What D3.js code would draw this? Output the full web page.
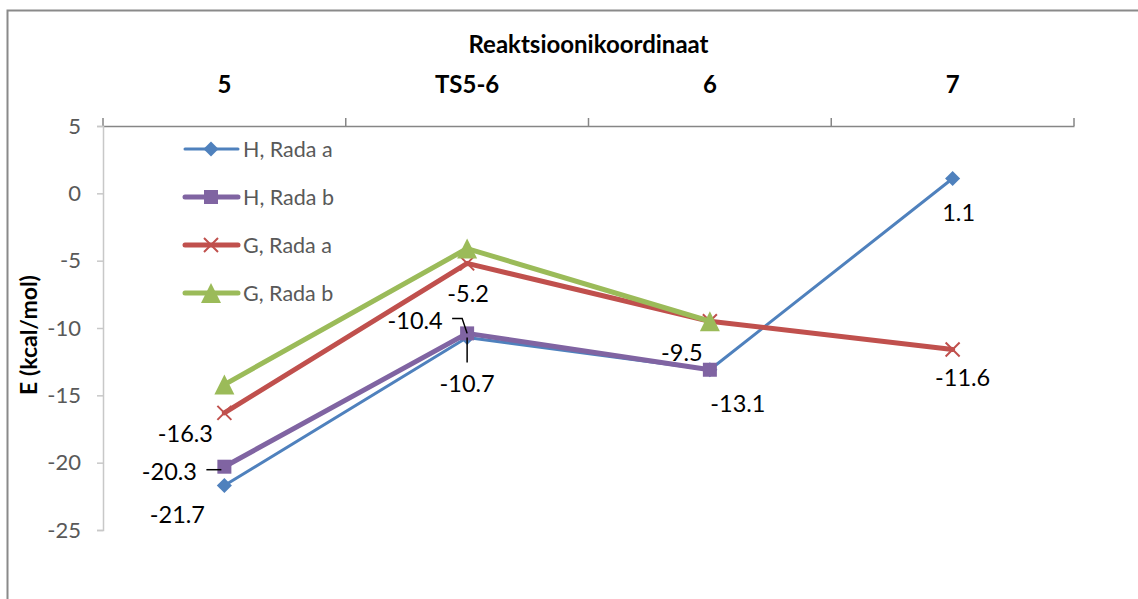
<!DOCTYPE html>
<html>
<head>
<meta charset="utf-8">
<script src="https://cdn.jsdelivr.net/npm/d3@7/dist/d3.min.js"></script>
<style>
  html, body { margin: 0; padding: 0; background: #fff; }
  svg { display: block; font-family: Lato, "Open Sans", sans-serif; }
</style>
</head>
<body>
<svg id="chart" width="1138" height="599"></svg>
<script>
// Reaction coordinate categories
const categories = ["5", "TS5-6", "6", "7"];
const yTicks = [5, 0, -5, -10, -15, -20, -25];

// Energies (kcal/mol) per series; null = no point
const hRadaA = [-21.7, -10.7, -13.1, 1.1];
const hRadaB = [-20.3, -10.4, -13.1, null];
const gRadaA = [-16.3, -5.2, -9.5, -11.6];
const gRadaB = [-14.2, -4.1, -9.5, null];

const seriesNames = ["H, Rada a", "H, Rada b", "G, Rada a", "G, Rada b"];
const seriesValues = [hRadaA, hRadaB, gRadaA, gRadaB];
const seriesColors = ["#4F81BD", "#8064A2", "#C0504D", "#9BBB59"];
const seriesWidths = [3, 5, 5, 5];
const seriesMarkers = ["diamond", "square", "cross", "triangle"];

// Value labels: series index, category index, offset of label centre, optional leader line
const labels = [
  { s: 0, c: 0, dx: -47, dy: 28 },
  { s: 1, c: 0, dx: -55, dy: 4, leader: [[-18, 3], [-3, 3]] },
  { s: 2, c: 0, dx: -39, dy: 20 },
  { s: 1, c: 1, dx: -52, dy: -13, leader: [[-15, -15], [-5, -15], [0, 0]] },
  { s: 0, c: 1, dx: 0, dy: 46, leader: [[0, 25], [0, 0]] },
  { s: 2, c: 1, dx: 1, dy: 30 },
  { s: 2, c: 2, dx: -28, dy: 31 },
  { s: 1, c: 2, dx: 28, dy: 33 },
  { s: 0, c: 3, dx: 6, dy: 33 },
  { s: 2, c: 3, dx: 10, dy: 27 }
];

const svg = d3.select("#chart");
const plot = { left: 103, right: 1074, top: 126, bottom: 530 };

const x = d3.scaleBand().domain(categories).range([plot.left, plot.right]).paddingInner(0).paddingOuter(0);
const xc = c => x(c) + x.bandwidth() / 2;
const y = d3.scaleLinear().domain([-25, 5]).range([plot.bottom, plot.top]);

// Chart area frame
svg.append("path")
  .attr("d", "M7.5,600 L7.5,10.5 L1140,10.5")
  .attr("fill", "none").attr("stroke", "#8a8a8a").attr("stroke-width", 2);

// Category axis along the top
const xAxis = d3.axisTop(x).tickSize(0).tickFormat("");
svg.append("g").attr("transform", `translate(0,${y(5)})`).call(xAxis)
  .call(g => g.select(".domain").attr("stroke", "#868686").attr("stroke-width", 1.5));
const bounds = [plot.left, ...categories.map(c => x(c) + x.bandwidth())];
svg.append("g").selectAll("line").data(bounds).join("line")
  .attr("x1", d => d).attr("x2", d => d)
  .attr("y1", y(5) - 8).attr("y2", y(5))
  .attr("stroke", "#868686").attr("stroke-width", 1.5);

svg.append("g").selectAll("text").data(categories).join("text")
  .attr("x", d => xc(d)).attr("y", 93)
  .attr("text-anchor", "middle")
  .attr("font-size", 24).attr("font-weight", "bold").attr("fill", "#000")
  .text(d => d);

svg.append("text")
  .attr("x", (plot.left + plot.right) / 2).attr("y", 53)
  .attr("text-anchor", "middle")
  .attr("font-size", 24).attr("font-weight", "bold").attr("fill", "#000")
  .text("Reaktsioonikoordinaat");

// Value axis on the left
const yAxis = d3.axisLeft(y).tickValues(yTicks).tickSize(6).tickPadding(16)
  .tickFormat(d => String(d));
svg.append("g").attr("transform", `translate(${plot.left},0)`).call(yAxis)
  .call(g => g.select(".domain").attr("stroke", "#c8c8c8").attr("stroke-width", 1.5))
  .call(g => g.selectAll(".tick line").attr("stroke", "#c8c8c8").attr("stroke-width", 1.5))
  .call(g => g.selectAll(".tick text").attr("fill", "#595959").attr("font-size", 22)
    .attr("font-family", "Lato, 'Open Sans', sans-serif"));

svg.append("text")
  .attr("transform", `translate(28,335) rotate(-90)`)
  .attr("text-anchor", "middle").attr("dominant-baseline", "central")
  .attr("font-size", 23).attr("font-weight", "bold").attr("fill", "#000")
  .text("E (kcal/mol)");

// Marker shapes
function marker(g, type, color, cx, cy) {
  if (type === "diamond") {
    g.append("path").attr("d", d3.symbol(d3.symbolDiamond2, 145)())
      .attr("transform", `translate(${cx},${cy})`).attr("fill", color);
  } else if (type === "square") {
    g.append("rect").attr("x", cx - 7).attr("y", cy - 7).attr("width", 14).attr("height", 14).attr("fill", color);
  } else if (type === "cross") {
    g.append("path").attr("d", `M${cx - 7},${cy - 7}L${cx + 7},${cy + 7}M${cx - 7},${cy + 7}L${cx + 7},${cy - 7}`)
      .attr("stroke", color).attr("stroke-width", 2).attr("fill", "none");
  } else if (type === "triangle") {
    g.append("path").attr("d", `M${cx},${cy - 10}L${cx + 10},${cy + 10}L${cx - 10},${cy + 10}Z`).attr("fill", color);
  }
}

// Series lines and markers
const line = d3.line()
  .defined(d => d.v !== null)
  .x(d => xc(d.c)).y(d => y(d.v));

seriesValues.forEach((vals, i) => {
  const pts = vals.map((v, j) => ({ c: categories[j], v }));
  const g = svg.append("g");
  g.append("path").datum(pts).attr("d", line)
    .attr("fill", "none").attr("stroke", seriesColors[i])
    .attr("stroke-width", seriesWidths[i]).attr("stroke-linejoin", "round").attr("stroke-linecap", "round");
  pts.filter(p => p.v !== null).forEach(p => marker(g, seriesMarkers[i], seriesColors[i], xc(p.c), y(p.v)));
});

// Data labels
const lg = svg.append("g");
labels.forEach(l => {
  const v = seriesValues[l.s][l.c];
  const px = xc(categories[l.c]), py = y(v);
  if (l.leader) {
    lg.append("path")
      .attr("d", d3.line()(l.leader.map(([dx, dy]) => [px + dx, py + dy])))
      .attr("fill", "none").attr("stroke", "#000").attr("stroke-width", 1.5);
  }
  lg.append("text")
    .attr("x", px + l.dx).attr("y", py + l.dy)
    .attr("text-anchor", "middle").attr("dominant-baseline", "central")
    .attr("font-size", 23.5).attr("fill", "#000")
    .text(v.toFixed(1));
});

// Legend
const legendRows = [149, 197, 245, 293];
const lgd = svg.append("g");
seriesNames.forEach((name, i) => {
  const ly = legendRows[i];
  lgd.append("line").attr("x1", 185).attr("x2", 238).attr("y1", ly).attr("y2", ly)
    .attr("stroke", seriesColors[i]).attr("stroke-width", seriesWidths[i]).attr("stroke-linecap", "round");
  marker(lgd, seriesMarkers[i], seriesColors[i], 211, ly);
  lgd.append("text").attr("x", 243).attr("y", ly).attr("dominant-baseline", "central")
    .attr("font-size", 21.5).attr("fill", "#595959").text(name);
});
</script>
</body>
</html>
